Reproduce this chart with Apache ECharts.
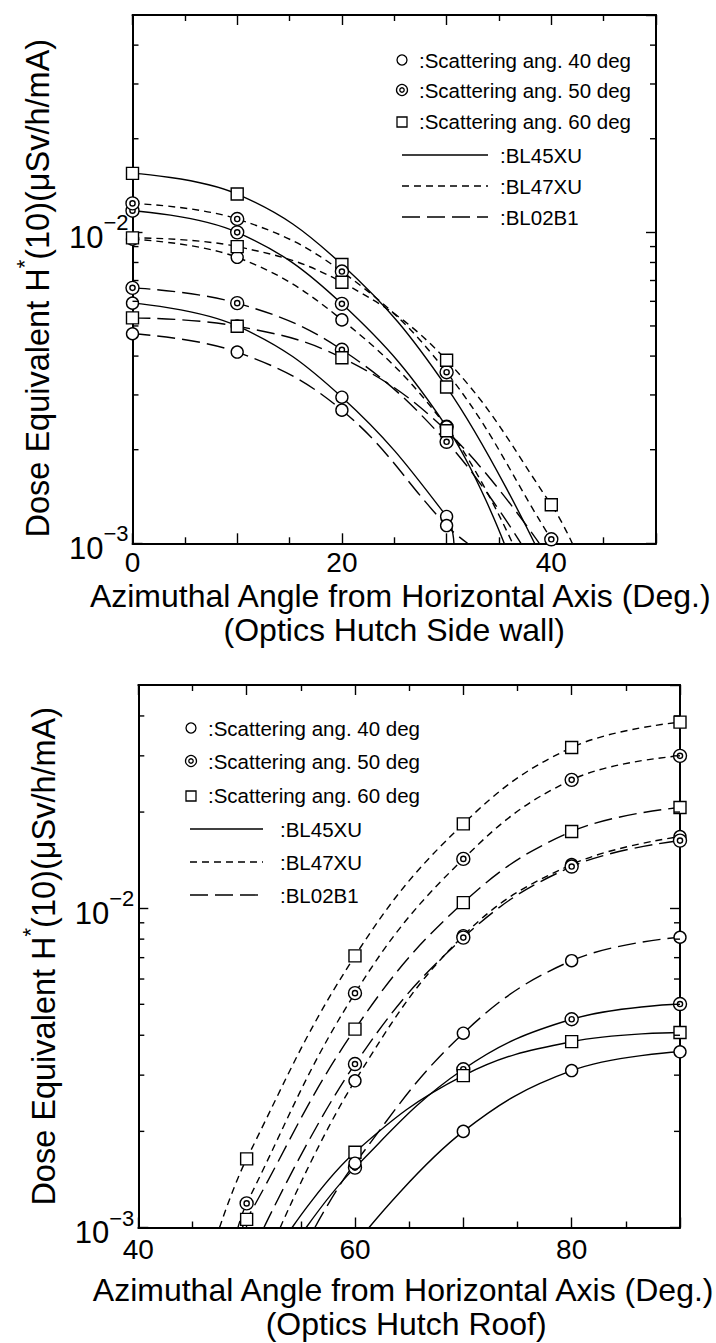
<!DOCTYPE html>
<html>
<head>
<meta charset="utf-8">
<script src="https://cdn.jsdelivr.net/npm/echarts@6/dist/echarts.min.js"></script>
<style>
html,body{margin:0;padding:0;background:#fff;}
#chart{width:716px;height:1343px;}
</style>
</head>
<body>
<div id="chart"></div>
<script>
// ---------------- DATA ----------------
// Upper panel: Optics Hutch Side wall
const SIDE_ANGLES = [0, 10, 20, 30, 40];
const SIDE_BL45XU_40 = [0.00592, 0.00500, 0.00295, 0.00122, null];
const SIDE_BL45XU_50 = [0.01174, 0.01000, 0.00589, 0.00237, null];
const SIDE_BL45XU_60 = [0.01547, 0.01328, 0.00788, 0.00318, null];
const SIDE_BL47XU_40 = [0.00950, 0.00831, 0.00523, 0.00237, null];
const SIDE_BL47XU_50 = [0.01239, 0.01104, 0.00748, 0.00355, 0.00103];
const SIDE_BL47XU_60 = [0.00960, 0.00900, 0.00691, 0.00388, 0.00133];
const SIDE_BL02B1_40 = [0.00472, 0.00412, 0.00268, 0.00114, null];
const SIDE_BL02B1_50 = [0.00663, 0.00592, 0.00419, 0.00212, null];
const SIDE_BL02B1_60 = [0.00531, 0.00499, 0.00395, 0.00230, null];
// angle where each fitted curve leaves the plot at the 1e-3 floor (same order as above)
const SIDE_EXIT_ANGLES = [30.7, 35.5, 38.4, 36.3, 40.3, 42.0, 32.0, 37.1, 38.85];

// Lower panel: Optics Hutch Roof
const ROOF_ANGLES = [50, 60, 70, 80, 90];
const ROOF_BL45XU_40 = [null, null, 0.00200, 0.00310, 0.00355];
const ROOF_BL45XU_50 = [null, 0.00154, 0.00313, 0.00449, 0.00501];
const ROOF_BL45XU_60 = [null, 0.00172, 0.00299, 0.00382, 0.00408];
const ROOF_BL47XU_40 = [null, 0.00288, 0.00820, 0.01370, 0.01676];
const ROOF_BL47XU_50 = [0.00119, 0.00542, 0.01427, 0.02523, 0.03000];
const ROOF_BL47XU_60 = [0.00164, 0.00709, 0.01837, 0.03185, 0.03825];
const ROOF_BL02B1_40 = [null, 0.00159, 0.00406, 0.00685, 0.00811];
const ROOF_BL02B1_50 = [null, 0.00325, 0.00809, 0.01350, 0.01628];
const ROOF_BL02B1_60 = [0.00106, 0.00418, 0.01041, 0.01738, 0.02067];
// angle where each fitted curve enters the plot at the 1e-3 floor (same order as above)
const ROOF_ENTRY_ANGLES = [61.3, 55.5, 54.2, 53.1, 49.2, 47.5, 56.3, 51.6, 49.6];

// axes / ticks
const Y_MIN = 0.001, Y_MAX = 0.05;
const Y_DECADE_LABELS = [0.001, 0.01];
const Y_MINOR_TICKS = [0.002, 0.003, 0.004, 0.005, 0.006, 0.007, 0.008, 0.009, 0.02, 0.03, 0.04];
const SIDE_X_RANGE = [0, 50];
const ROOF_X_RANGE = [40, 90];
const SIDE_X_LABELS = [0, 20, 40];
const ROOF_X_LABELS = [40, 60, 80];

const BEAMLINES = ['BL45XU', 'BL47XU', 'BL02B1'];
const SCATTER_ANGLES = [40, 50, 60];
const LEGEND_MARKER_TEXT = [':Scattering ang. 40 deg', ':Scattering ang. 50 deg', ':Scattering ang. 60 deg'];
const LEGEND_LINE_TEXT = [':BL45XU', ':BL47XU', ':BL02B1'];
const X_TITLE = 'Azimuthal Angle from Horizontal Axis (Deg.)';
const SIDE_SUBTITLE = '(Optics Hutch Side wall)';
const ROOF_SUBTITLE = '(Optics Hutch Roof)';
const Y_TITLE_PARTS = ['Dose Equivalent H', '*', '(10)(\u03bcSv/h/mA)'];

// ---------------- STYLE ----------------
const FONT = '"Liberation Sans", Arial, Helvetica, sans-serif';
const DOUBLE_CIRCLE = 'path://M0,-6.5A6.5,6.5 0 1,1 0,6.5A6.5,6.5 0 1,1 0,-6.5ZM0,-2.6A2.6,2.6 0 1,1 0,2.6A2.6,2.6 0 1,1 0,-2.6Z';
const MARKERS = {40: 'circle', 50: DOUBLE_CIRCLE, 60: 'rect'};
const MARKER_SIZE = {40: 12, 50: 13, 60: 12};
const DASHES = {BL45XU: 'solid', BL47XU: [7, 5], BL02B1: [18, 7]};

const sideSets = [SIDE_BL45XU_40, SIDE_BL45XU_50, SIDE_BL45XU_60, SIDE_BL47XU_40, SIDE_BL47XU_50, SIDE_BL47XU_60, SIDE_BL02B1_40, SIDE_BL02B1_50, SIDE_BL02B1_60];
const roofSets = [ROOF_BL45XU_40, ROOF_BL45XU_50, ROOF_BL45XU_60, ROOF_BL47XU_40, ROOF_BL47XU_50, ROOF_BL47XU_60, ROOF_BL02B1_40, ROOF_BL02B1_50, ROOF_BL02B1_60];

function makeSeries(angles, vals, edgeAngle, edgeFirst, gridIdx, bl, sa) {
  const pts = [];
  angles.forEach((a, i) => { if (vals[i] != null) pts.push({value: [a, vals[i]]}); });
  const edge = {value: [edgeAngle, Y_MIN], symbol: 'none'};
  const data = edgeFirst ? [edge].concat(pts) : pts.concat([edge]);
  return {
    type: 'line', name: bl + ' ' + sa + ' deg',
    xAxisIndex: gridIdx * 2, yAxisIndex: gridIdx * 2,
    data: data, smooth: 0.4,
    symbol: MARKERS[sa], symbolSize: MARKER_SIZE[sa], showAllSymbol: true,
    lineStyle: {color: '#000', width: 1.4, type: DASHES[bl]},
    itemStyle: {color: '#fff', borderColor: '#000', borderWidth: 1.4},
    emphasis: {disabled: true}, z: 3, clip: true, animation: false
  };
}

const series = [];
BEAMLINES.forEach((bl, bi) => SCATTER_ANGLES.forEach((sa, si) => {
  const k = bi * 3 + si;
  series.push(makeSeries(SIDE_ANGLES, sideSets[k], SIDE_EXIT_ANGLES[k], false, 0, bl, sa));
  series.push(makeSeries(ROOF_ANGLES, roofSets[k], ROOF_ENTRY_ANGLES[k], true, 1, bl, sa));
}));

function minorTickSeries(gridIdx, xr) {
  return {
    type: 'custom', xAxisIndex: gridIdx * 2, yAxisIndex: gridIdx * 2, silent: true, z: 5,
    clip: false, animation: false,
    data: Y_MINOR_TICKS.map(v => [xr[0], v]),
    encode: {x: 0, y: 1},
    renderItem: function (params, api) {
      const v = api.value(1);
      const a = api.coord([xr[0], v]);
      const b = api.coord([xr[1], v]);
      const st = {stroke: '#000', lineWidth: 1.4};
      return {type: 'group', children: [
        {type: 'line', shape: {x1: a[0], y1: a[1], x2: a[0] + 6, y2: a[1]}, style: st},
        {type: 'line', shape: {x1: b[0] - 6, y1: b[1], x2: b[0], y2: b[1]}, style: st}
      ]};
    }
  };
}
series.push(minorTickSeries(0, SIDE_X_RANGE));
series.push(minorTickSeries(1, ROOF_X_RANGE));

const axisLineStyle = {show: true, onZero: false, lineStyle: {color: '#000', width: 2}};

function xAxes(gridIdx, xr, labels, subtitle, labelMargin, nameGap, shift1, shift2) {
  const base = {
    type: 'value', gridIndex: gridIdx, min: xr[0], max: xr[1], interval: 10,
    axisLine: axisLineStyle, splitLine: {show: false},
    axisTick: {show: true, inside: true, length: 10, lineStyle: {color: '#000', width: 1.4}},
    minorTick: {show: true, splitNumber: 2, length: 6, lineStyle: {color: '#000', width: 1.4}},
    minorSplitLine: {show: false}
  };
  const pad = s => s >= 0 ? [0, 0, 0, 2 * s] : [0, -2 * s, 0, 0];
  return [
    Object.assign({}, base, {
      position: 'bottom',
      axisLabel: {show: true, margin: labelMargin, lineHeight: 20, color: '#000', fontSize: 28, fontFamily: FONT,
        formatter: v => labels.indexOf(v) >= 0 ? String(v) : ''},
      name: '{a|' + X_TITLE + '}\n{b|' + subtitle + '}', nameLocation: 'middle', nameGap: nameGap,
      nameMoveOverlap: false,
      nameTextStyle: {
        color: '#000', fontSize: 32, fontFamily: FONT, verticalAlign: 'top',
        rich: {
          a: {fontSize: 32, fontFamily: FONT, color: '#000', lineHeight: 22, padding: pad(shift1)},
          b: {fontSize: 32, fontFamily: FONT, color: '#000', lineHeight: 46, padding: pad(shift2)}
        }
      }
    }),
    Object.assign({}, base, {position: 'top', axisLabel: {show: false}})
  ];
}

function yAxes(gridIdx, endPad) {
  const base = {
    type: 'log', logBase: 10, gridIndex: gridIdx, min: Y_MIN, max: Y_MAX,
    axisLine: axisLineStyle, splitLine: {show: false},
    axisTick: {show: true, inside: true, length: 10, lineStyle: {color: '#000', width: 1.4}}
  };
  return [
    Object.assign({}, base, {
      position: 'left',
      axisLabel: {
        show: true, margin: 4, color: '#000', fontFamily: FONT,
        showMaxLabel: false,
        formatter: v => {
          const e = Math.round(Math.log10(v));
          const hit = Y_DECADE_LABELS.some(d => Math.abs(d - v) / d < 1e-6);
          return hit ? '{b|10}{s|\u2212' + (-e) + '}' : '';
        },
        rich: {
          b: {fontSize: 31, fontFamily: FONT, color: '#000', padding: [10, 0, 0, 0], verticalAlign: 'bottom'},
          s: {fontSize: 22, fontFamily: FONT, color: '#000', verticalAlign: 'top'}
        }
      },
      name: '{t|' + Y_TITLE_PARTS[0] + '}{s|' + Y_TITLE_PARTS[1] + '}{e|' + Y_TITLE_PARTS[2] + '}',
      nameLocation: 'middle', nameGap: 78, nameRotate: 90, nameMoveOverlap: false,
      nameTextStyle: {
        color: '#000', fontFamily: FONT, fontSize: 32.5,
        rich: {
          t: {fontSize: 32.5, fontFamily: FONT, color: '#000', padding: [8, 0, 0, 0], verticalAlign: 'bottom'},
          s: {fontSize: 22, fontFamily: FONT, color: '#000', verticalAlign: 'top'},
          e: {fontSize: 32.5, fontFamily: FONT, color: '#000', padding: [8, endPad, 0, 0], verticalAlign: 'bottom'}
        }
      }
    }),
    Object.assign({}, base, {position: 'right', axisLabel: {show: false}})
  ];
}

// ---------------- LEGEND (graphic) ----------------
function legendGraphics(cfg) {
  const els = [];
  const st = {fill: '#fff', stroke: '#000', lineWidth: 1.3};
  const textStyle = (t, x, y) => ({type: 'text', x: x, y: y, z: 10,
    style: {text: t, fill: '#000', font: '20.5px ' + FONT, align: 'left', verticalAlign: 'middle'}});
  SCATTER_ANGLES.forEach((sa, i) => {
    const x = cfg.mx, y = cfg.rows[i];
    if (sa === 40) els.push({type: 'circle', shape: {cx: x, cy: y, r: 5}, style: st, z: 10});
    if (sa === 50) {
      els.push({type: 'circle', shape: {cx: x, cy: y, r: 5.5}, style: st, z: 10});
      els.push({type: 'circle', shape: {cx: x, cy: y, r: 2.2}, style: st, z: 10});
    }
    if (sa === 60) els.push({type: 'rect', shape: {x: x - 5, y: y - 4, width: 10, height: 10}, style: st, z: 10});
    els.push(textStyle(LEGEND_MARKER_TEXT[i], cfg.tx, y));
  });
  BEAMLINES.forEach((bl, i) => {
    const y = cfg.lrows[i];
    const dash = DASHES[bl] === 'solid' ? null : DASHES[bl];
    els.push({type: 'line', shape: {x1: cfg.lx1, y1: y, x2: cfg.lx2, y2: y}, z: 10,
      style: {stroke: '#000', lineWidth: 1.4, lineDash: dash}});
    els.push(textStyle(LEGEND_LINE_TEXT[i], cfg.ltx, y));
  });
  return els;
}

const graphics = []
  .concat(legendGraphics({mx: 402, tx: 419, rows: [60, 90, 121], lx1: 402, lx2: 488, ltx: 500, lrows: [155, 186, 217]}))
  .concat(legendGraphics({mx: 191, tx: 208, rows: [728, 761, 795], lx1: 190, lx2: 263, ltx: 280, lrows: [829, 862, 895]}));

const option = {
  backgroundColor: '#fff',
  animation: false,
  grid: [
    {left: 132.5, top: 15, width: 523.5, height: 528.3, containLabel: false, outerBoundsMode: 'none'},
    {left: 138.3, top: 685, width: 541.7, height: 542.5, containLabel: false, outerBoundsMode: 'none'}
  ],
  xAxis: xAxes(0, SIDE_X_RANGE, SIDE_X_LABELS, SIDE_SUBTITLE, 9, 41.7, 6, 0)
    .concat(xAxes(1, ROOF_X_RANGE, ROOF_X_LABELS, ROOF_SUBTITLE, 12, 51.5, -6, -3)),
  yAxis: yAxes(0, 18).concat(yAxes(1, 0)),
  series: series,
  graphic: graphics
};

const chart = echarts.init(document.getElementById('chart'), null, {renderer: 'svg'});
chart.setOption(option);
</script>
</body>
</html>
